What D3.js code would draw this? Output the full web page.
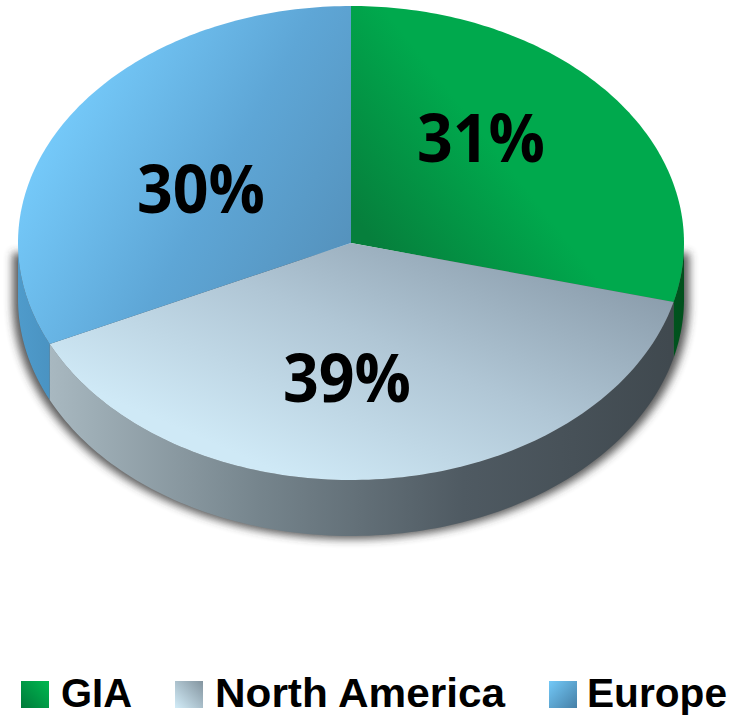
<!DOCTYPE html>
<html><head><meta charset="utf-8">
<script src="https://cdnjs.cloudflare.com/ajax/libs/d3/7.9.0/d3.min.js"></script>
<style>html,body{margin:0;padding:0;background:#fff}svg{display:block}text{font-weight:700;fill:#000}</style>
</head><body><svg id="c" width="731" height="716"></svg>
<script>
const categories = ["GIA", "North America", "Europe"];
const labelValues = [31, 39, 30];
// Slice shares as they are seen on the tilted 3D disc (its perspective shifts the printed shares)
const drawnShares = [29, 39, 32];
const topStops = [["#00a94d", "#00a94d", "#067f3c"], ["#8a9cab", "#b0c6d5", "#cfe9f6"], ["#74c8f8", "#5ea6d6", "#5490ba"]];
const legendStops = [["#00b850", "#007a3a"], ["#83949f", "#d2ecf8"], ["#73c9f8", "#457fa6"]];
const sideStops = [["#00541e", "#004f1c"], ["#a8b8c0", "#76858d", "#4f5a62", "#40494f"], ["#4f9bcb", "#4a93c2"]];
const labelFit = [128, 128, 128];
const legendFit = [71, 290, 140];

const svg = d3.select("#c"), defs = svg.append("defs");
const cx = 351, cy = 243, rx = 333, ry = 237, depth = 56;
const X = d3.scaleLinear().domain([-1, 1]).range([cx - rx, cx + rx]);
const Y = d3.scaleLinear().domain([-1, 1]).range([cy - ry, cy + ry]);
const pie = d3.pie().sort(null).value(d => d);
const arcs = pie(drawnShares);
const steps = (a, b) => d3.range(0, 121).map(i => a + (b - a) * i / 120);
const pt = (t, dy = 0) => [X(Math.sin(t)), Y(-Math.cos(t)) + dy];
const line = d3.line();

function grad(id, c, x1, y1, x2, y2) {
  const g = defs.append("linearGradient").attr("id", id).attr("gradientUnits", "userSpaceOnUse")
    .attr("x1", x1).attr("y1", y1).attr("x2", x2).attr("y2", y2);
  c.forEach((s, i) => g.append("stop").attr("offset", i / (c.length - 1)).attr("stop-color", s));
}
const f = defs.append("filter").attr("id", "blur").attr("x", "-10%").attr("y", "-10%").attr("width", "120%").attr("height", "120%");
f.append("feGaussianBlur").attr("stdDeviation", 4);

// top-face gradient vectors per slice
grad("t0", topStops[0], 620, 60, 380, 250);
grad("t1", topStops[1], 640, 280, 512, 574);
grad("t2", topStops[2], 60, 130, 345, 290);
grad("s0", sideStops[0], 670, 0, 690, 0);
grad("s1", sideStops[1], 50, 0, 670, 0);
grad("s2", sideStops[2], 18, 0, 50, 0);

// drop shadow under the lower half of the disc, starting near its widest line
const outline = steps(Math.PI / 2, 3 * Math.PI / 2).map(t => pt(t, depth + 3));
outline.unshift(pt(Math.PI / 2, 10));
outline.push(pt(3 * Math.PI / 2, 10));
svg.append("path").attr("d", line(outline) + "Z").attr("transform", `translate(${cx} ${cy}) scale(1.016 1) translate(${-cx} ${-cy})`)
  .attr("fill", "#333").attr("opacity", .8).attr("filter", "url(#blur)");

// extruded sides
arcs.forEach((a, i) => {
  const s = Math.max(a.startAngle, Math.PI / 2), e = Math.min(a.endAngle, 3 * Math.PI / 2);
  if (e <= s) return;
  const top = steps(s, e).map(t => pt(t)), bot = steps(e, s).map(t => pt(t, depth));
  svg.append("path").attr("d", line(top.concat(bot)) + "Z").attr("fill", `url(#s${i})`);
});
// top faces
arcs.forEach((a, i) => {
  const p = [[cx, cy]].concat(steps(a.startAngle, a.endAngle).map(t => pt(t)));
  svg.append("path").attr("d", line(p) + "Z").attr("fill", `url(#t${i})`);
});

// value labels
const labelPos = [[481, 162], [347, 402], [201, 213]];
labelValues.forEach((v, i) => {
  svg.append("text").attr("x", labelPos[i][0]).attr("y", labelPos[i][1]).attr("text-anchor", "middle")
    .attr("font-family", "'Open Sans',sans-serif")
    .attr("font-size", 66).attr("textLength", labelFit[i]).attr("lengthAdjust", "spacingAndGlyphs").text(v + "%");
});

// legend
const legSwatch = [21, 175, 549], legText = [61, 215, 587];
categories.forEach((c, i) => {
  const id = "l" + i;
  grad(id, legendStops[i], legSwatch[i] + (i === 2 ? 0 : 28), 681, legSwatch[i] + (i === 2 ? 28 : 0), 708);
  svg.append("rect").attr("x", legSwatch[i]).attr("y", 681).attr("width", 28).attr("height", 27).attr("fill", `url(#${id})`);
  svg.append("text").attr("x", legText[i]).attr("y", 707).attr("font-size", 40)
    .attr("font-family", "'Liberation Sans',sans-serif")
    .attr("textLength", legendFit[i]).attr("lengthAdjust", "spacingAndGlyphs").text(c);
});
</script></body></html>
